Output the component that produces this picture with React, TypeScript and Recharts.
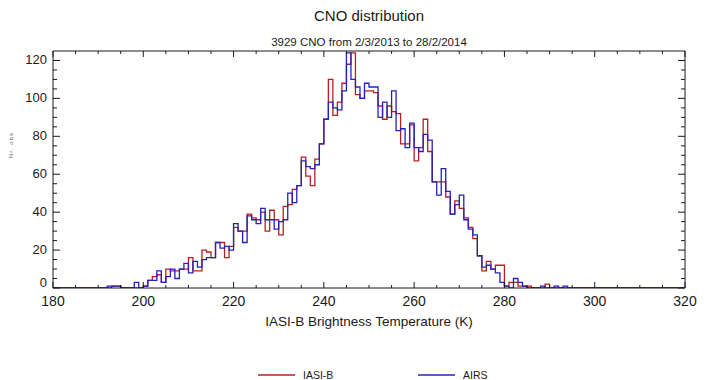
import { LineChart, Line, XAxis, YAxis } from "recharts";

// bin lower edges (K); first/last points only carry the empty baseline
const binStart = [
  180,
  190, 191, 192, 193, 194, 195, 196, 197, 198, 199,
  200, 201, 202, 203, 204, 205, 206, 207, 208, 209,
  210, 211, 212, 213, 214, 215, 216, 217, 218, 219,
  220, 221, 222, 223, 224, 225, 226, 227, 228, 229,
  230, 231, 232, 233, 234, 235, 236, 237, 238, 239,
  240, 241, 242, 243, 244, 245, 246, 247, 248, 249,
  250, 251, 252, 253, 254, 255, 256, 257, 258, 259,
  260, 261, 262, 263, 264, 265, 266, 267, 268, 269,
  270, 271, 272, 273, 274, 275, 276, 277, 278, 279,
  280, 281, 282, 283, 284, 285, 286, 287, 288, 289,
  290, 291, 292, 293, 294, 295, 296, 297,
  320,
];

const iasiCounts = [
  0,
  0, 0, 0, 1, 1, 0, 0, 0, 0, 0,
  1, 4, 6, 7, 3, 10, 9, 9, 10, 10,
  16, 9, 9, 20, 19, 16, 24, 24, 16, 22,
  32, 30, 30, 39, 37, 36, 40, 30, 41, 36,
  28, 43, 44, 52, 54, 69, 59, 54, 68, 76,
  89, 110, 91, 98, 108, 118, 124, 102, 100, 104,
  104, 103, 96, 89, 96, 93, 92, 76, 76, 86,
  67, 74, 89, 72, 56, 56, 56, 48, 39, 46,
  42, 37, 32, 26, 17, 9, 14, 10, 12, 12,
  1, 3, 3, 1, 1, 1, 0, 0, 0, 2,
  0, 0, 0, 0, 0, 0, 0, 0,
  0,
];

const airsCounts = [
  0,
  0, 0, 1, 1, 1, 0, 0, 0, 3, 0,
  1, 4, 4, 9, 3, 6, 10, 5, 10, 13,
  8, 14, 11, 15, 16, 16, 24, 21, 22, 20,
  34, 30, 24, 38, 36, 34, 42, 36, 36, 31,
  35, 36, 50, 45, 54, 67, 64, 63, 65, 76,
  89, 98, 95, 94, 104, 124, 110, 106, 100, 108,
  106, 106, 90, 98, 90, 104, 83, 84, 74, 87,
  74, 72, 81, 78, 56, 49, 63, 51, 39, 44,
  49, 36, 31, 28, 17, 11, 12, 10, 8, 3,
  1, 0, 5, 3, 1, 0, 0, 0, 1, 0,
  0, 1, 0, 1, 0, 0, 0, 0,
  0,
];

const xTicks = [
  180, 185, 190, 195, 200, 205, 210, 215, 220, 225, 230, 235, 240, 245,
  250, 255, 260, 265, 270, 275, 280, 285, 290, 295, 300, 305, 310, 315, 320,
];
const yTicks = [
  0, 5, 10, 15, 20, 25, 30, 35, 40, 45, 50, 55, 60, 65, 70, 75, 80, 85, 90,
  95, 100, 105, 110, 115, 120,
];

const data = binStart.map((t, i) => ({ t, iasi: iasiCounts[i], airs: airsCounts[i] }));

const FONT = "'Liberation Sans', Arial, sans-serif";
const INK = "#1a1a1a";
const RED = "#b82020";
const BLUE = "#2222c0";

// axis positions come from Recharts; ticks are drawn pointing into the plot box
function BottomTick({ x, y, payload }: any) {
  const major = payload.value % 20 === 0;
  return (
    <g>
      <line x1={x} y1={y} x2={x} y2={y - (major ? 6 : 3)} stroke={INK} strokeWidth={1} />
      {major && (
        <text x={x} y={y + 14} textAnchor="middle" dominantBaseline="middle" fontSize={14} fontFamily={FONT} fill={INK}>
          {payload.value}
        </text>
      )}
    </g>
  );
}

function TopTick({ x, y, payload }: any) {
  const major = payload.value % 20 === 0;
  return <line x1={x} y1={y} x2={x} y2={y + (major ? 6 : 3)} stroke={INK} strokeWidth={1} />;
}

function LeftTick({ x, y, payload }: any) {
  const major = payload.value % 20 === 0;
  return (
    <g>
      <line x1={x} y1={y} x2={x + (major ? 7 : 4)} y2={y} stroke={INK} strokeWidth={1} />
      {major && (
        <text
          x={x - 6}
          y={payload.value === 0 ? y - 4 : y}
          textAnchor="end"
          dominantBaseline="middle"
          fontSize={13}
          fontFamily={FONT}
          fill={INK}
        >
          {payload.value}
        </text>
      )}
    </g>
  );
}

function RightTick({ x, y, payload }: any) {
  const major = payload.value % 20 === 0;
  return <line x1={x} y1={y} x2={x - (major ? 7 : 4)} y2={y} stroke={INK} strokeWidth={1} />;
}

const axisCommon = {
  type: "number" as const,
  interval: 0 as const,
  tickSize: 0,
  tickMargin: 0,
  tickLine: false,
  axisLine: { stroke: INK },
  allowDataOverflow: true,
};

function LegendItem({ color, label }: { color: string; label: string }) {
  return (
    <div style={{ display: "flex", alignItems: "center", fontSize: 10.5, lineHeight: "14px" }}>
      <svg width={37} height={6} style={{ marginRight: 8 }}>
        <line x1={0} y1={3} x2={37} y2={3} stroke={color} strokeWidth={1.3} />
      </svg>
      {label}
    </div>
  );
}

export default function App() {
  return (
    <div
      style={{
        position: "absolute",
        left: 0,
        top: 0,
        width: 709,
        height: 380,
        background: "#fff",
        fontFamily: FONT,
        color: INK,
      }}
    >
      <LineChart width={709} height={380} data={data} margin={{ top: 41, right: 14, bottom: 62, left: 13 }}>
        <XAxis xAxisId="bottom" dataKey="t" domain={[180, 320]} ticks={xTicks} height={30} tick={<BottomTick />} {...axisCommon} />
        <XAxis xAxisId="top" orientation="top" dataKey="t" domain={[180, 320]} ticks={xTicks} height={10} tick={<TopTick />} {...axisCommon} />
        <YAxis yAxisId="left" domain={[0, 125]} ticks={yTicks} width={40} tick={<LeftTick />} {...axisCommon} />
        <YAxis yAxisId="right" orientation="right" domain={[0, 125]} ticks={yTicks} width={10} tick={<RightTick />} {...axisCommon} />
        {/* invisible copy so the top/right frame axes have a series bound to them */}
        <Line xAxisId="top" yAxisId="right" type="stepAfter" dataKey="airs" stroke="none" dot={false} activeDot={false} isAnimationActive={false} />
        <Line
          xAxisId="bottom"
          yAxisId="left"
          type="stepAfter"
          dataKey="iasi"
          stroke={RED}
          strokeWidth={1.3}
          dot={false}
          activeDot={false}
          isAnimationActive={false}
        />
        <Line
          xAxisId="bottom"
          yAxisId="left"
          type="stepAfter"
          dataKey="airs"
          stroke={BLUE}
          strokeWidth={1.3}
          dot={false}
          activeDot={false}
          isAnimationActive={false}
        />
      </LineChart>

      <div style={{ position: "absolute", left: 369, top: 7, transform: "translateX(-50%)", whiteSpace: "nowrap", fontSize: 15, lineHeight: "18px" }}>
        CNO distribution
      </div>
      <div style={{ position: "absolute", left: 369, top: 35, transform: "translateX(-50%)", whiteSpace: "nowrap", fontSize: 11.5, lineHeight: "14px" }}>
        3929 CNO from 2/3/2013 to 28/2/2014
      </div>
      <div style={{ position: "absolute", left: 369, top: 313, transform: "translateX(-50%)", whiteSpace: "nowrap", fontSize: 13.5, lineHeight: "17px" }}>
        IASI-B Brightness Temperature (K)
      </div>
      <div
        style={{
          position: "absolute",
          left: 11,
          top: 145,
          transform: "translate(-50%, -50%) rotate(-90deg)",
          whiteSpace: "nowrap",
          fontSize: 6,
          color: "#666",
          letterSpacing: 1,
        }}
      >
        Nr. obs
      </div>

      <div style={{ position: "absolute", left: 258, top: 368 }}>
        <LegendItem color={RED} label="IASI-B" />
      </div>
      <div style={{ position: "absolute", left: 418, top: 368 }}>
        <LegendItem color={BLUE} label="AIRS" />
      </div>
    </div>
  );
}
